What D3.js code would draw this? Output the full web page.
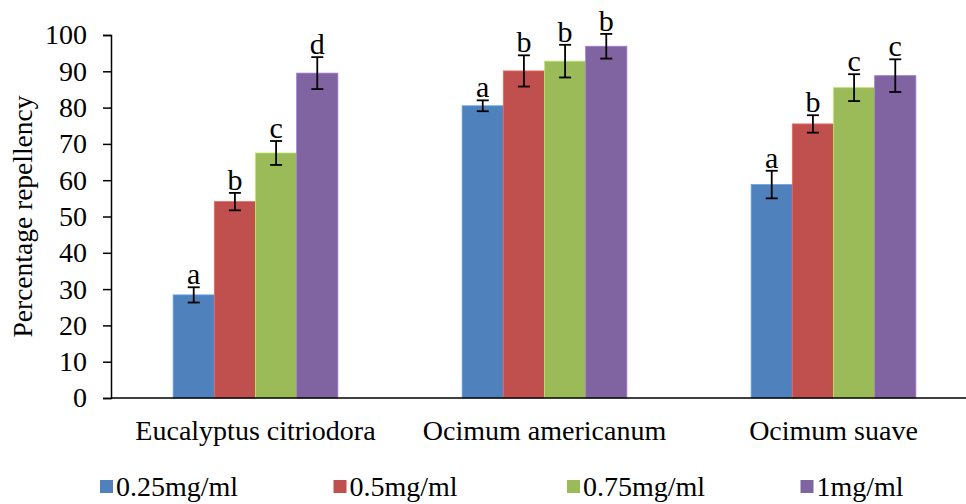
<!DOCTYPE html>
<html>
<head>
<meta charset="utf-8">
<script src="https://cdn.jsdelivr.net/npm/d3@7"></script>
<style>
  body { margin: 0; background: #fff; }
  svg { display: block; font-family: "Liberation Serif", "Times New Roman", serif; }
</style>
</head>
<body>
<svg></svg>
<script>
const categories = ["Eucalyptus citriodora", "Ocimum americanum", "Ocimum suave"];
const series = ["0.25mg/ml", "0.5mg/ml", "0.75mg/ml", "1mg/ml"];
const colors = ["#4F81BD", "#C0504D", "#9BBB59", "#8064A2"];

// mean repellency per concentration, one array per plant
const values = [
  [28.4, 54.1, 67.5, 89.5],
  [80.5, 90.1, 92.8, 96.9],
  [58.8, 75.5, 85.5, 88.8]
];
const errors = [
  [2.1, 2.4, 3.3, 4.4],
  [1.5, 4.3, 4.5, 3.4],
  [3.8, 2.4, 3.7, 4.5]
];
const letters = [
  ["a", "b", "c", "d"],
  ["a", "b", "b", "b"],
  ["a", "b", "c", "c"]
];
const yTicks = [0, 10, 20, 30, 40, 50, 60, 70, 80, 90, 100];

const width = 966;
const height = 504;
const margin = { top: 35, right: -12, bottom: 106, left: 111 };

const svg = d3.select("svg")
    .attr("width", width)
    .attr("height", height);

const x0 = d3.scaleBand()
    .domain(categories)
    .range([margin.left, width - margin.right])
    .paddingInner(0.43)
    .paddingOuter(0.215);

const x1 = d3.scaleBand()
    .domain(series)
    .range([0, x0.bandwidth()]);

const y = d3.scaleLinear()
    .domain([0, 100])
    .range([height - margin.bottom, margin.top]);

// y axis
const yAxis = d3.axisLeft(y)
    .tickValues(yTicks)
    .tickSize(8)
    .tickPadding(16)
    .tickSizeOuter(8);

const gy = svg.append("g")
    .attr("transform", `translate(${margin.left},0)`)
    .call(yAxis);
gy.attr("font-family", null);
gy.selectAll("text")
    .attr("font-size", 28)
    .attr("fill", "#000");
gy.selectAll("line, path").attr("stroke", "#000").attr("stroke-width", 1.5);

svg.append("text")
    .attr("transform", `translate(32,${(y(0) + y(100)) / 2}) rotate(-90)`)
    .attr("text-anchor", "middle")
    .attr("font-size", 27.5)
    .text("Percentage repellency");

// bars
const groups = svg.append("g")
    .selectAll("g")
    .data(categories)
    .join("g")
    .attr("transform", c => `translate(${x0(c)},0)`);

groups.selectAll("rect")
    .data((c, i) => values[i].map((v, j) => ({ v, j })))
    .join("rect")
    .attr("x", d => x1(series[d.j]))
    .attr("y", d => y(d.v))
    .attr("width", x1.bandwidth())
    .attr("height", d => y(0) - y(d.v))
    .attr("fill", d => colors[d.j])
    .attr("stroke", d => d3.color(colors[d.j]).brighter(0.6))
    .attr("stroke-width", 0.8);

// error bars
const errs = groups.selectAll("g.err")
    .data((c, i) => values[i].map((v, j) => ({ v, e: errors[i][j], l: letters[i][j], j })))
    .join("g")
    .attr("class", "err")
    .attr("transform", d => `translate(${x1(series[d.j]) + x1.bandwidth() / 2},0)`);

errs.append("line")
    .attr("y1", d => y(d.v - d.e))
    .attr("y2", d => y(d.v + d.e));
errs.append("line")
    .attr("x1", -6).attr("x2", 6)
    .attr("y1", d => y(d.v + d.e))
    .attr("y2", d => y(d.v + d.e));
errs.append("line")
    .attr("x1", -6).attr("x2", 6)
    .attr("y1", d => y(d.v - d.e))
    .attr("y2", d => y(d.v - d.e));
errs.selectAll("line").attr("stroke", "#000").attr("stroke-width", 1.8);

errs.append("text")
    .attr("y", d => y(d.v + d.e) - 3)
    .attr("text-anchor", "middle")
    .attr("font-size", 30)
    .text(d => d.l);

// x axis line
svg.append("line")
    .attr("x1", margin.left).attr("x2", width)
    .attr("y1", y(0)).attr("y2", y(0))
    .attr("stroke", "#000")
    .attr("stroke-width", 1.5);

svg.append("g")
    .selectAll("text")
    .data(categories)
    .join("text")
    .attr("x", c => x0(c) + x0.bandwidth() / 2)
    .attr("y", 440)
    .attr("text-anchor", "middle")
    .attr("font-size", 28)
    .text(c => c);

// legend
const legend = svg.append("g")
    .selectAll("g")
    .data(series)
    .join("g")
    .attr("transform", (s, i) => `translate(${100 + i * 233.5},0)`);

legend.append("rect")
    .attr("x", 0).attr("y", 480)
    .attr("width", 13).attr("height", 13)
    .attr("fill", (s, i) => colors[i]);

legend.append("text")
    .attr("x", 16)
    .attr("y", 496)
    .attr("font-size", 28)
    .text(s => s);
</script>
</body>
</html>
